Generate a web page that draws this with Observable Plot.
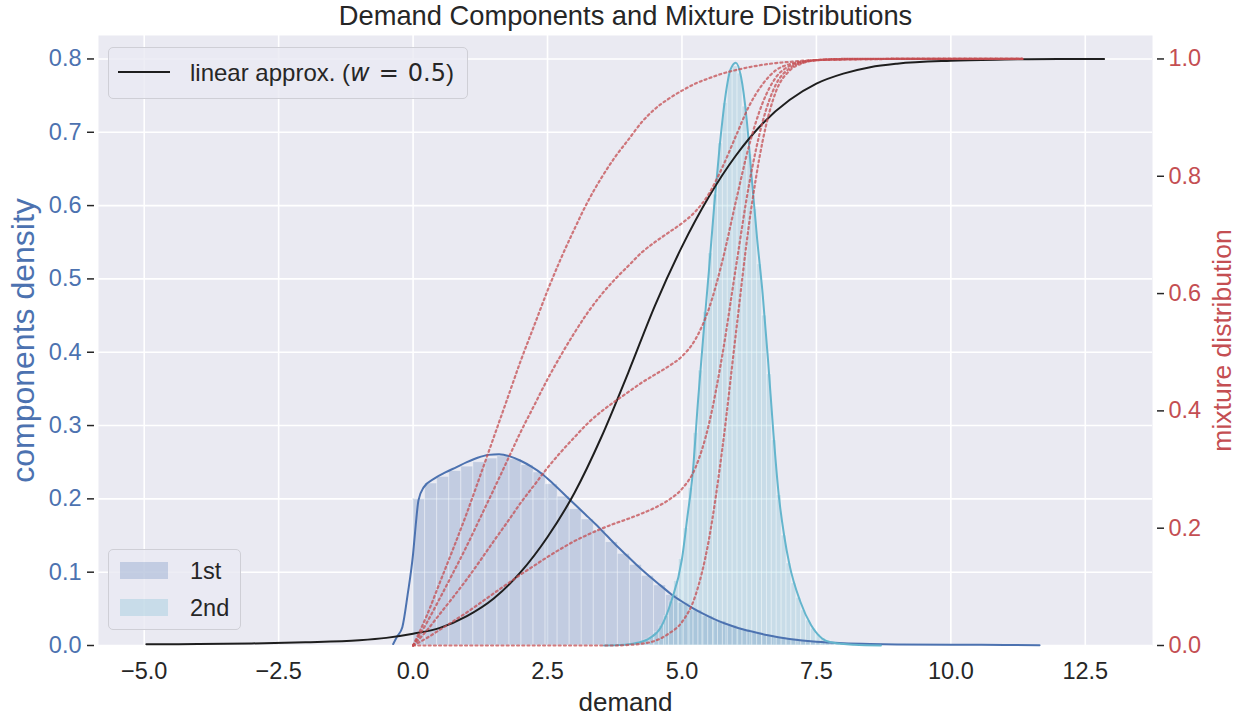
<!DOCTYPE html>
<html><head><meta charset="utf-8">
<script src="https://cdn.jsdelivr.net/npm/d3@7"></script>
<script src="https://cdn.jsdelivr.net/npm/@observablehq/plot@0.6"></script>
<style>
body{margin:0;background:#fff;font-family:"Liberation Sans",Arial,sans-serif;}
#wrap{position:relative;width:1244px;height:719px;}
.legend{position:absolute;background:rgba(234,234,242,0.8);border:1px solid #cfcfd6;border-radius:5px;box-sizing:border-box;font-size:23.5px;color:#262626;}
.legend div{position:absolute;}
</style></head>
<body><div id="wrap"></div>
<script>
// ---------- data ----------
const titleText = "Demand Components and Mixture Distributions";
const xLabel = "demand";
const leftLabel = "components density";
const rightLabel = "mixture distribution";
const xTicks = [-5, -2.5, 0, 2.5, 5, 7.5, 10, 12.5];
const leftTicks = [0, 0.1, 0.2, 0.3, 0.4, 0.5, 0.6, 0.7, 0.8];
const rightTicks = [0, 0.2, 0.4, 0.6, 0.8, 1.0];
const componentNames = ["1st", "2nd"];
const approxName = "linear approx.";

// 1st component: KDE curve
const kde1X = [-0.37, -0.3, -0.2, -0.1, 0.0, 0.05, 0.1, 0.2, 0.4, 0.6, 0.8, 1.0, 1.2, 1.4, 1.6, 1.8, 2.0, 2.2, 2.4, 2.6, 2.8, 3.0, 3.2, 3.4, 3.6, 3.8, 4.0, 4.2, 4.4, 4.6, 4.8, 5.0, 5.2, 5.4, 5.6, 5.8, 6.0, 6.3, 6.6, 7.0, 7.5, 8.0, 8.5, 9.0, 10.0, 11.0, 11.65];
const kde1Y = [0.002, 0.012, 0.025, 0.07, 0.125, 0.165, 0.198, 0.216, 0.228, 0.236, 0.243, 0.25, 0.256, 0.26, 0.261, 0.258, 0.252, 0.244, 0.234, 0.221, 0.207, 0.193, 0.179, 0.165, 0.15, 0.135, 0.121, 0.107, 0.094, 0.082, 0.07, 0.06, 0.051, 0.043, 0.036, 0.03, 0.025, 0.019, 0.014, 0.009, 0.005, 0.003, 0.002, 0.0015, 0.001, 0.0008, 0.0005];
// 1st component: histogram (50 bins)
const hist1Start = 0, hist1Width = 0.224;
const hist1Heights = [0.200, 0.221, 0.230, 0.238, 0.244, 0.250, 0.255, 0.258, 0.254, 0.246,
  0.236, 0.220, 0.203, 0.186, 0.172, 0.157, 0.141, 0.125, 0.110, 0.095,
  0.082, 0.069, 0.058, 0.048, 0.040, 0.033, 0.027, 0.022, 0.017, 0.014,
  0.011, 0.009, 0.007, 0.005, 0.004, 0.003, 0.0025, 0.002, 0.0015, 0.0012,
  0.001, 0.001, 0.0008, 0.0006, 0.0005, 0.0004, 0.0004, 0.0003, 0.0003, 0.0002];

// 2nd component: KDE curve
const kde2X = [3.55, 3.9, 4.2, 4.4, 4.6, 4.8, 5.0, 5.1, 5.2, 5.3, 5.4, 5.5, 5.6, 5.7, 5.8, 5.9, 6.0, 6.1, 6.2, 6.3, 6.4, 6.5, 6.6, 6.7, 6.8, 6.9, 7.0, 7.2, 7.4, 7.6, 7.8, 8.2, 8.7];
const kde2Y = [0, 0.001, 0.004, 0.01, 0.024, 0.06, 0.118, 0.175, 0.235, 0.335, 0.425, 0.51, 0.6, 0.68, 0.745, 0.785, 0.795, 0.775, 0.72, 0.635, 0.553, 0.48, 0.39, 0.29, 0.205, 0.15, 0.11, 0.06, 0.028, 0.01, 0.004, 0.001, 0];
// 2nd component: histogram (50 bins)
const hist2Start = 3.85, hist2Width = 0.091;
const hist2Heights = [0.001, 0.001, 0.002, 0.003, 0.005, 0.008, 0.012, 0.018, 0.027, 0.04,
  0.06, 0.088, 0.118, 0.16, 0.215, 0.29, 0.375, 0.455, 0.535, 0.615,
  0.685, 0.74, 0.78, 0.79, 0.78, 0.735, 0.67, 0.595, 0.52, 0.45,
  0.37, 0.28, 0.205, 0.15, 0.112, 0.085, 0.065, 0.048, 0.034, 0.023,
  0.015, 0.01, 0.007, 0.004, 0.003, 0.002, 0.001, 0.001, 0.0005, 0.0005];

// mixture distributions (right axis), one per weight of the 1st component
const mixX = [0, 0.25, 0.5, 0.75, 1, 1.25, 1.5, 1.75, 2, 2.25, 2.5, 2.75, 3, 3.25, 3.5, 3.75, 4, 4.25, 4.5, 4.75, 5, 5.25, 5.5, 5.75, 6, 6.25, 6.5, 6.75, 7, 7.25, 7.5, 8, 9, 10, 11.33];
const mixW100 = [0, 0.05, 0.108, 0.166, 0.226, 0.29, 0.355, 0.42, 0.485, 0.545, 0.605, 0.66, 0.71, 0.757, 0.797, 0.832, 0.862, 0.892, 0.915, 0.932, 0.946, 0.958, 0.967, 0.975, 0.981, 0.986, 0.99, 0.993, 0.995, 0.997, 0.998, 0.999, 1, 1, 1];
const mixW75 = [0, 0.038, 0.081, 0.125, 0.17, 0.218, 0.266, 0.315, 0.364, 0.409, 0.454, 0.495, 0.533, 0.568, 0.598, 0.624, 0.647, 0.67, 0.688, 0.704, 0.72, 0.74, 0.77, 0.815, 0.868, 0.92, 0.957, 0.981, 0.991, 0.996, 0.998, 0.999, 1, 1, 1];
const mixW50 = [0, 0.025, 0.054, 0.083, 0.113, 0.145, 0.178, 0.21, 0.243, 0.273, 0.303, 0.33, 0.355, 0.379, 0.399, 0.416, 0.432, 0.448, 0.462, 0.476, 0.493, 0.522, 0.574, 0.655, 0.756, 0.853, 0.925, 0.969, 0.988, 0.995, 0.998, 0.9995, 1, 1, 1];
const mixW25 = [0, 0.0125, 0.027, 0.0415, 0.0565, 0.0725, 0.089, 0.105, 0.121, 0.136, 0.151, 0.165, 0.178, 0.189, 0.199, 0.208, 0.216, 0.225, 0.235, 0.248, 0.267, 0.303, 0.377, 0.495, 0.643, 0.787, 0.893, 0.957, 0.984, 0.994, 0.998, 1, 1, 1, 1];
const mixW0 = [0, 0, 0, 0, 0, 0, 0, 0, 0, 0, 0, 0, 0, 0, 0, 0, 0.001, 0.003, 0.008, 0.02, 0.04, 0.085, 0.18, 0.335, 0.53, 0.72, 0.86, 0.945, 0.98, 0.993, 0.998, 1, 1, 1, 1];

// linear approximation (w = 0.5), right axis
const approxX = [-4.96, -4, -3, -2, -1, -0.5, 0, 0.5, 1, 1.5, 2, 2.5, 3, 3.5, 4, 4.5, 5, 5.5, 6, 6.5, 7, 7.5, 8, 8.5, 9, 10, 11, 12, 12.85];
const approxY = [0.002, 0.0025, 0.0035, 0.0055, 0.009, 0.013, 0.02, 0.03, 0.05, 0.08, 0.125, 0.185, 0.26, 0.355, 0.465, 0.58, 0.68, 0.765, 0.835, 0.89, 0.93, 0.958, 0.975, 0.986, 0.992, 0.997, 0.999, 1, 1];

// ---------- styling ----------
const blue = "#4c72b0", cyan = "#64b5cd", red = "#c44e52", ink = "#262626";
const RATIO = 0.8; // right-axis 1.0 sits at left-axis 0.8
const font = '"Liberation Sans", Arial, sans-serif';

const toBars = (start, w, hs) => hs.map((h, i) => ({x1: start + i * w, x2: start + (i + 1) * w, y1: 0, y2: h}));
const bars1 = toBars(hist1Start, hist1Width, hist1Heights);
const bars2 = toBars(hist2Start, hist2Width, hist2Heights);
const kde1 = kde1X.map((x, i) => ({x, y: kde1Y[i]}));
const kde2 = kde2X.map((x, i) => ({x, y: kde2Y[i]}));
const mixes = [mixW100, mixW75, mixW50, mixW25, mixW0].flatMap((arr, k) => mixX.map((x, i) => ({k, x, r: arr[i]})));
const approx = approxX.map((x, i) => ({x, r: approxY[i]}));

const chart = Plot.plot({
  width: 1244, height: 719,
  marginLeft: 98, marginRight: 92, marginTop: 35, marginBottom: 74,
  style: {fontFamily: font, background: "transparent", color: ink, overflow: "visible"},
  x: {domain: [-5.85, 13.75]},
  y: {domain: [0, 0.832]},
  marks: [
    Plot.frame({fill: "#eaeaf2", stroke: null}),
    Plot.gridX(xTicks, {stroke: "white", strokeOpacity: 1, strokeWidth: 1.6}),
    Plot.gridY(leftTicks, {stroke: "white", strokeOpacity: 1, strokeWidth: 1.6}),
    Plot.rect(bars1, {x1: "x1", x2: "x2", y1: "y1", y2: "y2", fill: blue, fillOpacity: 0.25, stroke: "white", strokeOpacity: 0.35, strokeWidth: 1}),
    Plot.rect(bars2, {x1: "x1", x2: "x2", y1: "y1", y2: "y2", fill: cyan, fillOpacity: 0.25, stroke: "white", strokeOpacity: 0.35, strokeWidth: 1}),
    Plot.line(kde1, {x: "x", y: "y", stroke: blue, strokeWidth: 2, curve: "monotone-x"}),
    Plot.line(kde2, {x: "x", y: "y", stroke: cyan, strokeWidth: 2, curve: "monotone-x"}),
    Plot.line(approx, {x: "x", y: d => d.r * RATIO, stroke: "#1e1e1e", strokeWidth: 2, curve: "monotone-x"}),
    Plot.line(mixes, {x: "x", y: d => d.r * RATIO, z: "k", stroke: red, strokeWidth: 2.2, strokeDasharray: "2,3.2", strokeOpacity: 0.75, curve: "monotone-x"}),
    Plot.axisX(xTicks, {anchor: "bottom", tickSize: 0, tickPadding: 17, fontSize: 23.5, fill: ink, label: null,
      tickFormat: d => d.toFixed(1).replace("-", "\u2212")}),
    Plot.axisY(leftTicks, {anchor: "left", tickSize: 7, tickPadding: 6, dx: -4, stroke: ink, strokeWidth: 1.5, fill: blue, fontSize: 23.5, label: null,
      tickFormat: d => d.toFixed(1)}),
    Plot.axisY(rightTicks.map(t => t * RATIO), {anchor: "right", tickSize: 7, tickPadding: 5, dx: 4, stroke: ink, strokeWidth: 1.5, fill: red, fontSize: 23.5, label: null,
      tickFormat: d => (d / RATIO).toFixed(1)}),
    Plot.text([titleText], {frameAnchor: "top", dy: -19, text: d => d, fontSize: 27.3, fill: ink, lineAnchor: "middle"}),
    Plot.text([xLabel], {frameAnchor: "bottom", dy: 57, text: d => d, fontSize: 26, fill: ink, lineAnchor: "middle"}),
    Plot.text([leftLabel], {frameAnchor: "left", dx: -75, rotate: -90, text: d => d, fontSize: 32, fill: blue, textAnchor: "middle", lineAnchor: "middle"}),
    Plot.text([rightLabel], {frameAnchor: "right", dx: 70, rotate: -90, text: d => d, fontSize: 26.5, fill: red, textAnchor: "middle", lineAnchor: "middle"})
  ]
});

const wrap = document.getElementById("wrap");
wrap.appendChild(chart);

const leg1 = document.createElement("div");
leg1.className = "legend";
Object.assign(leg1.style, {left: "108px", top: "47px", width: "360px", height: "52px"});
leg1.innerHTML = `<div style="left:9px;top:23px;width:52px;height:2px;background:#1e1e1e"></div>
<div style="left:81px;top:0;height:50px;line-height:50px;white-space:nowrap;font-size:24px">${approxName} (<span style="font-family:'DejaVu Sans';font-style:italic">w</span><span style="font-family:'DejaVu Sans';margin:0 9px">=</span><span style="font-family:'DejaVu Sans'">0.5</span>)</div>`;
wrap.appendChild(leg1);

const leg2 = document.createElement("div");
leg2.className = "legend";
Object.assign(leg2.style, {left: "108px", top: "549px", width: "133px", height: "81px"});
leg2.innerHTML = `<div style="left:11px;top:12px;width:48px;height:17px;background:${blue};opacity:0.25"></div>
<div style="left:11px;top:49px;width:48px;height:17px;background:${cyan};opacity:0.25"></div>
<div style="left:81px;top:8px;line-height:26px">${componentNames[0]}</div>
<div style="left:81px;top:45px;line-height:26px">${componentNames[1]}</div>`;
wrap.appendChild(leg2);
</script>
</body></html>
